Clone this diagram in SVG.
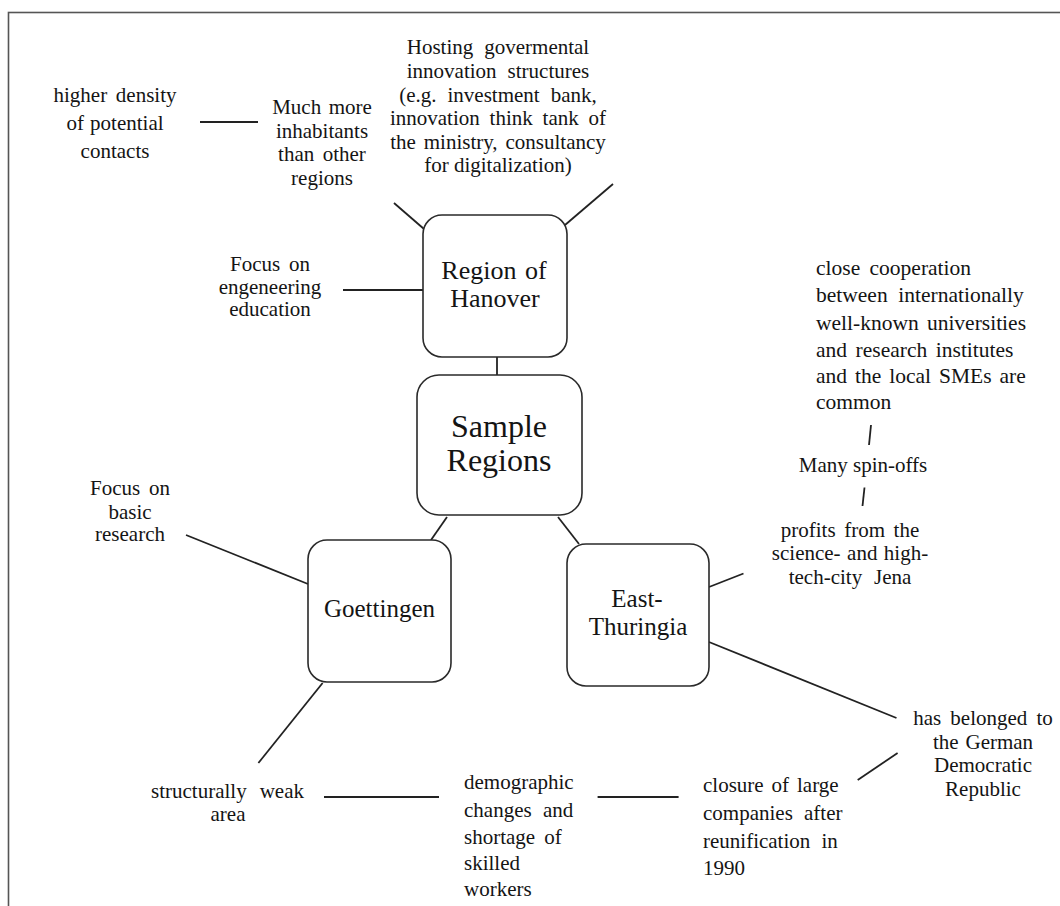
<svg xmlns="http://www.w3.org/2000/svg" width="1060" height="906" viewBox="0 0 1060 906">
  <style>
    .frame { fill: #ffffff; stroke: #555555; stroke-width: 1.6; }
    .box { fill: #ffffff; stroke: #2a2a2a; stroke-width: 1.6; }
    .link { stroke: #222222; stroke-width: 1.8; fill: none; stroke-linecap: butt; }
    text { font-family: "Liberation Serif", "Times New Roman", serif; fill: #141414; }
    .note { font-size: 21px; }
    .note-l { font-size: 21.5px; }
    .node { font-size: 25px; text-anchor: middle; }
    .node-lg { font-size: 26px; text-anchor: middle; }
    .hub { font-size: 32px; text-anchor: middle; }
    .c { text-anchor: middle; }
    .s { text-anchor: start; }
  </style>

  <!-- page frame -->
  <rect class="frame" x="8.5" y="12.5" width="1100" height="950"/>

  <!-- connectors -->
  <g id="connectors">
    <line class="link" x1="497" y1="357" x2="497" y2="375"/>
    <line class="link" x1="447" y1="517" x2="431" y2="540"/>
    <line class="link" x1="558" y1="517" x2="579" y2="544"/>
    <line class="link" x1="343" y1="290" x2="423" y2="290"/>
    <line class="link" x1="394" y1="203" x2="424" y2="229"/>
    <line class="link" x1="613" y1="184" x2="565" y2="225"/>
    <line class="link" x1="200" y1="122" x2="258" y2="122"/>
    <line class="link" x1="871" y1="425" x2="869" y2="445"/>
    <line class="link" x1="864.5" y1="487.5" x2="862.5" y2="506"/>
    <line class="link" x1="709" y1="587" x2="743.5" y2="573.5"/>
    <line class="link" x1="709" y1="642" x2="896.5" y2="718"/>
    <line class="link" x1="897.6" y1="753" x2="857.7" y2="780"/>
    <line class="link" x1="597.6" y1="797" x2="678.6" y2="797"/>
    <line class="link" x1="324" y1="797" x2="439" y2="797"/>
    <line class="link" x1="322.6" y1="683" x2="258.4" y2="763"/>
    <line class="link" x1="186" y1="535" x2="308" y2="584"/>
  </g>

  <!-- main nodes -->
  <g id="node-hanover">
    <rect class="box" x="423" y="215" width="144" height="142" rx="19"/>
    <text class="node-lg" x="494" y="279" style="word-spacing:2px">Region of</text>
    <text class="node-lg" x="495" y="307">Hanover</text>
  </g>

  <g id="node-sample-regions">
    <rect class="box" x="417" y="375" width="165" height="140" rx="22"/>
    <text class="hub" x="499" y="437">Sample</text>
    <text class="hub" x="499" y="471">Regions</text>
  </g>

  <g id="node-goettingen">
    <rect class="box" x="308" y="540" width="143" height="142" rx="19"/>
    <text class="node" x="379.5" y="617">Goettingen</text>
  </g>

  <g id="node-east-thuringia">
    <rect class="box" x="567" y="544" width="142" height="142" rx="19"/>
    <text class="node" x="637" y="607">East-</text>
    <text class="node" x="638" y="635">Thuringia</text>
  </g>

  <!-- Hanover annotations -->
  <g id="note-density">
    <text class="note c" x="115" y="102" style="word-spacing:3.4px">higher density</text>
    <text class="note c" x="115" y="130" style="word-spacing:1px">of potential</text>
    <text class="note c" x="115" y="158">contacts</text>
  </g>

  <g id="note-inhabitants">
    <text class="note c" x="322" y="114" style="word-spacing:2.3px">Much more</text>
    <text class="note c" x="322" y="137.5">inhabitants</text>
    <text class="note c" x="322" y="161" style="word-spacing:3.2px">than other</text>
    <text class="note c" x="322" y="184.5">regions</text>
  </g>

  <g id="note-innovation">
    <text class="note c" x="498" y="54" style="word-spacing:5.7px">Hosting govermental</text>
    <text class="note c" x="498" y="78" style="word-spacing:5.7px">innovation structures</text>
    <text class="note c" x="498" y="101.5" style="word-spacing:5.8px">(e.g. investment bank,</text>
    <text class="note c" x="498" y="125" style="word-spacing:4.6px">innovation think tank of</text>
    <text class="note c" x="498" y="148.5" style="word-spacing:2.6px">the ministry, consultancy</text>
    <text class="note c" x="498" y="172">for digitalization)</text>
  </g>

  <g id="note-engineering">
    <text class="note c" x="270" y="271" style="word-spacing:3.6px">Focus on</text>
    <text class="note c" x="270" y="293.5">engeneering</text>
    <text class="note c" x="270" y="316">education</text>
  </g>

  <!-- East-Thuringia annotations -->
  <g id="note-cooperation">
    <text class="note-l s" x="816" y="275" style="word-spacing:4px">close cooperation</text>
    <text class="note-l s" x="816" y="302" style="word-spacing:5.3px">between internationally</text>
    <text class="note-l s" x="816" y="329.5" style="word-spacing:2.8px">well-known universities</text>
    <text class="note-l s" x="816" y="356.5" style="word-spacing:3.2px">and research institutes</text>
    <text class="note-l s" x="816" y="383" style="word-spacing:2.6px">and the local SMEs are</text>
    <text class="note-l s" x="816" y="409">common</text>
  </g>

  <g id="note-spinoffs">
    <text class="note c" x="863" y="472">Many spin-offs</text>
  </g>

  <g id="note-jena">
    <text class="note c" x="850" y="536.5" style="word-spacing:3.3px">profits from the</text>
    <text class="note c" x="850" y="560" style="word-spacing:1.2px">science- and high-</text>
    <text class="note c" x="850" y="584" style="word-spacing:6.6px">tech-city Jena</text>
  </g>

  <g id="note-gdr">
    <text class="note c" x="983" y="725" style="word-spacing:3.9px">has belonged to</text>
    <text class="note c" x="983" y="748.5" style="word-spacing:1.7px">the German</text>
    <text class="note c" x="983" y="772">Democratic</text>
    <text class="note c" x="983" y="796">Republic</text>
  </g>

  <g id="note-closure">
    <text class="note s" x="703" y="792" style="word-spacing:2.7px">closure of large</text>
    <text class="note s" x="703" y="820" style="word-spacing:6px">companies after</text>
    <text class="note s" x="703" y="847.5" style="word-spacing:6px">reunification in</text>
    <text class="note s" x="703" y="874.5">1990</text>
  </g>

  <!-- Goettingen annotations -->
  <g id="note-demographic">
    <text class="note s" x="464" y="788.5">demographic</text>
    <text class="note s" x="464" y="816.5" style="word-spacing:6px">changes and</text>
    <text class="note s" x="464" y="843.5" style="word-spacing:3.8px">shortage of</text>
    <text class="note s" x="464" y="869.5">skilled</text>
    <text class="note s" x="464" y="896">workers</text>
  </g>

  <g id="note-weak-area">
    <text class="note c" x="227.5" y="797.5" style="word-spacing:7.8px">structurally weak</text>
    <text class="note c" x="228" y="821">area</text>
  </g>

  <g id="note-basic-research">
    <text class="note c" x="130" y="494.5" style="word-spacing:3.6px">Focus on</text>
    <text class="note c" x="130" y="518.5">basic</text>
    <text class="note c" x="130" y="541">research</text>
  </g>
</svg>
